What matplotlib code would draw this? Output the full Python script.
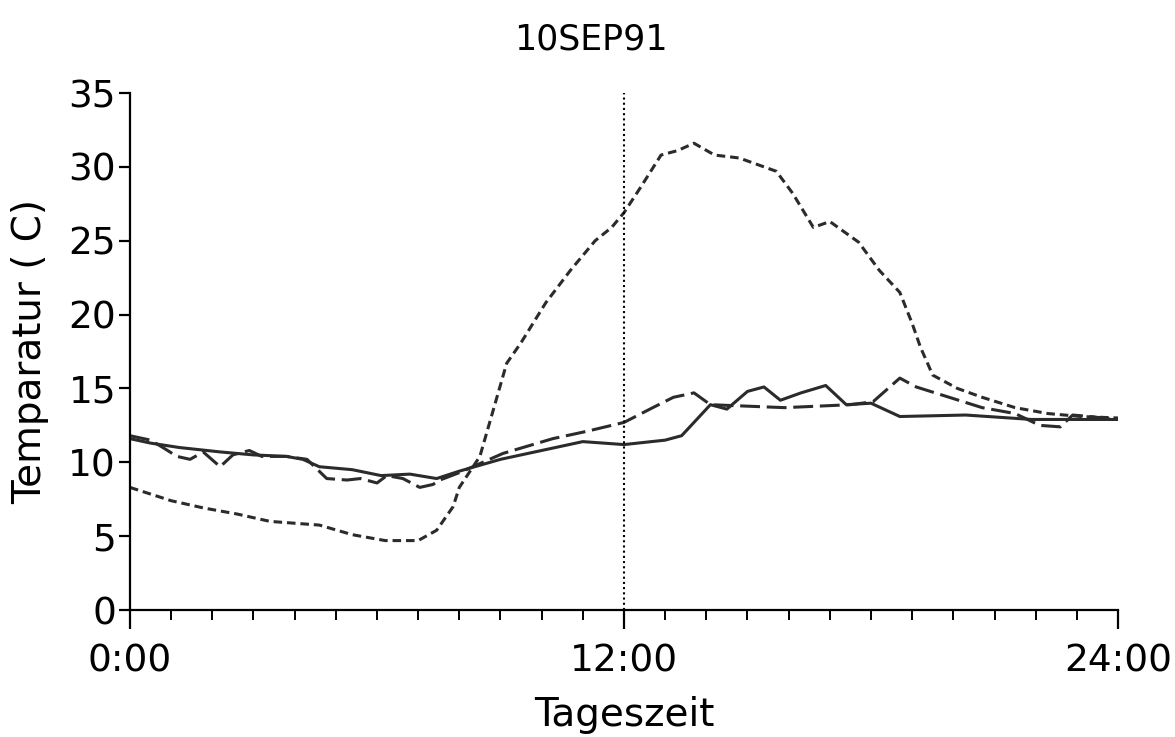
import matplotlib
matplotlib.use("Agg")
import matplotlib.pyplot as plt
from matplotlib.ticker import MultipleLocator

solid_h = [0.0, 0.5, 1.2, 2.2, 3.0, 3.8, 4.2, 4.6, 5.4, 6.1, 6.8, 7.45, 8.0, 8.5,
           9.0, 10.0, 11.0, 12.0, 13.0, 13.4, 14.1, 14.5, 15.0, 15.4, 15.8, 16.3,
           16.9, 17.4, 18.0, 18.7, 20.3, 21.9, 24.0]
solid_t = [11.6, 11.3, 11.0, 10.7, 10.5, 10.4, 10.2, 9.7, 9.5, 9.1, 9.2, 8.9, 9.4, 9.8,
           10.2, 10.8, 11.4, 11.2, 11.5, 11.8, 13.9, 13.6, 14.8, 15.1, 14.2, 14.7,
           15.2, 13.9, 14.0, 13.1, 13.2, 12.9, 12.9]

ldash_h = [0.0, 0.5, 0.8, 1.14, 1.46, 1.78, 2.19, 2.5, 2.9, 3.2, 3.8, 4.3, 4.78, 5.27,
           5.6, 6.0, 6.24, 6.63, 7.04, 7.36, 7.53, 8.0, 9.06, 10.27, 11.1, 12.0,
           12.7, 13.2, 13.7, 14.1, 15.9, 17.5, 18.05, 18.7, 19.1, 19.9, 20.7, 21.5,
           22.1, 22.6, 22.9, 23.3, 24.0]
ldash_t = [11.8, 11.5, 11.0, 10.4, 10.2, 10.7, 9.7, 10.5, 10.8, 10.4, 10.4, 10.2, 8.9, 8.8,
           8.9, 8.6, 9.1, 8.9, 8.3, 8.5, 8.8, 9.3, 10.6, 11.6, 12.1, 12.7,
           13.7, 14.4, 14.7, 13.9, 13.7, 13.9, 14.1, 15.7, 15.1, 14.4, 13.7, 13.3,
           12.5, 12.4, 13.2, 13.1, 12.9]

sdash_h = [0.0, 1.0, 1.8, 2.6, 3.4, 4.6, 5.4, 6.2, 7.0, 7.45, 7.85, 8.0, 8.5, 8.8,
           9.15, 9.5, 10.1, 10.7, 11.3, 11.7, 12.0, 12.4, 12.9, 13.3, 13.7, 14.2,
           14.8, 15.7, 16.1, 16.6, 17.0, 17.7, 18.2, 18.7, 19.0, 19.2, 19.5, 20.1,
           20.7, 21.5, 22.3, 23.1, 24.0]
sdash_t = [8.3, 7.4, 6.9, 6.5, 6.0, 5.75, 5.1, 4.7, 4.7, 5.4, 7.0, 8.3, 10.4, 13.3,
           16.7, 18.1, 20.8, 23.0, 25.0, 25.9, 26.9, 28.6, 30.8, 31.1, 31.6, 30.8,
           30.6, 29.7, 28.2, 25.9, 26.3, 24.9, 23.0, 21.5, 19.4, 17.8, 15.9, 15.0,
           14.4, 13.7, 13.3, 13.1, 13.0]

title = "10SEP91"
xticks = [0, 12, 24]
xlabels = ["0:00", "12:00", "24:00"]
yticks = [0, 5, 10, 15, 20, 25, 30, 35]

plt.rcParams['font.family'] = ['DejaVu Sans']
col = '#2b2b2b'

fig = plt.figure(figsize=(11.75, 7.37), dpi=100)
ax = fig.add_axes([0.1106, 0.1723, 0.8409, 0.7015])

ax.plot(solid_h, solid_t, color=col, lw=2.2, solid_joinstyle='round')
ax.plot(ldash_h, ldash_t, color=col, lw=2.2, linestyle=(0, (6.5, 2.2)))
ax.plot(sdash_h, sdash_t, color=col, lw=2.2, linestyle=(0, (2.8, 1.6)))
ax.plot([12, 12], [0, 35], color='black', lw=1.5, linestyle=(0, (1, 1.5)))

ax.set_xlim(0, 24)
ax.set_ylim(0, 35)
ax.spines['top'].set_visible(False)
ax.spines['right'].set_visible(False)
ax.spines['left'].set_linewidth(1.6)
ax.spines['bottom'].set_linewidth(1.6)

ax.set_xticks(xticks)
ax.set_xticklabels(xlabels)
ax.xaxis.set_minor_locator(MultipleLocator(1))
ax.set_yticks(yticks)
ax.tick_params(axis='x', which='major', length=14, width=1.6, labelsize=27, pad=10)
ax.tick_params(axis='x', which='minor', length=7, width=1.4)
ax.tick_params(axis='y', length=8, width=1.6, labelsize=27, pad=2)

ax.set_xlabel("Tageszeit", fontsize=28, labelpad=12)
ax.set_ylabel("Temparatur ( C)", fontsize=28, labelpad=14)
fig.text(0.503, 0.947, title, ha='center', va='center', fontsize=25)

fig.savefig("out.png", dpi=100, facecolor='white')
